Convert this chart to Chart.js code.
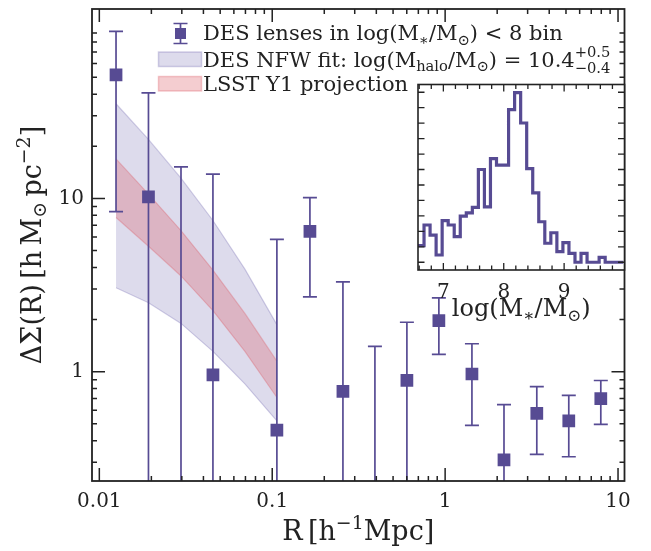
<!DOCTYPE html>
<html><head><meta charset="utf-8">
<script src="https://cdn.jsdelivr.net/npm/chart.js@4"></script>
<style>
html,body{margin:0;padding:0;background:#fff;}
#wrap{position:relative;width:651px;height:551px;overflow:hidden;}
#main{position:absolute;left:0;top:0;}
#inset{position:absolute;left:380px;top:76px;}
</style></head><body>
<div id="wrap">
<canvas id="main" width="651" height="551"></canvas>
<canvas id="inset" width="271" height="250"></canvas>
</div>
<script>
// ---------------- data ----------------
const rBins = [0.01249, 0.01924, 0.02967, 0.0454, 0.1064, 0.1652, 0.2564, 0.3926, 0.601, 0.920, 1.429, 2.19, 3.39, 5.19, 7.95];
const deltaSigma = [51.6, 10.2, null, 0.96, 0.46, 6.45, 0.77, null, 0.89, 1.97, 0.97, 0.31, 0.575, 0.52, 0.70];
const errHigh = [92, 40.7, 15.2, 13.8, 5.8, 10.1, 3.3, 1.40, 1.93, 2.67, 1.45, 0.645, 0.82, 0.73, 0.89];
// null = lower end of the error bar is below the plotted range
const errLow = [8.4, null, null, null, null, 2.7, null, null, null, 1.26, 0.49, null, 0.333, 0.323, 0.496];

const bandR = [0.01249, 0.01924, 0.02967, 0.0454, 0.0695, 0.1064];
const nfwLow = [3.05, 2.50, 1.90, 1.31, 0.85, 0.52];
const nfwHigh = [35.2, 21.9, 13.1, 7.46, 3.91, 1.87];
const lsstLow = [7.76, 5.30, 3.57, 2.25, 1.31, 0.71];
const lsstHigh = [16.9, 10.6, 6.53, 3.86, 2.17, 1.15];

const xMajor = [0.01, 0.1, 1, 10];
const xTickLabels = ['0.01', '0.1', '1', '10'];
const yMajor = [1, 10];
const yTickLabels = ['1', '10'];

// inset histogram of log(M*/Msun)
const histEdges = [6.58, 6.68, 6.78, 6.88, 6.98, 7.08, 7.18, 7.28, 7.38, 7.48, 7.58, 7.68, 7.78, 7.88, 7.98, 8.08, 8.18, 8.28, 8.38, 8.48, 8.58, 8.68, 8.78, 8.88, 8.98, 9.08, 9.18, 9.28, 9.38, 9.48, 9.58, 9.68, 9.78, 9.88, 9.98];
const histCounts = [1.08, 2.41, 1.76, 0.47, 2.69, 2.41, 1.66, 2.99, 3.20, 3.55, 6.0, 3.59, 6.71, 6.28, 6.28, 9.87, 10.97, 9.01, 6.06, 4.49, 2.62, 1.23, 1.91, 0.69, 1.27, 0.58, 0, 0.58, 0, 0, 0.32, 0, 0, 0];
const insetXMajor = [7, 8, 9];
const insetXLabels = ['7', '8', '9'];

// ---------------- style ----------------
const FAM = "'DejaVu Serif', serif";
const PURPLE = '#574b93';
const INK = '#222222';

function rich(ctx, parts, x, y, size, align) {
  const items = parts.map(p => typeof p === 'string' ? {t: p} : Object.assign({}, p));
  let w = 0;
  for (const p of items) {
    ctx.font = (size * (p.s || 1)) + 'px ' + FAM;
    p.w = p.stack ? Math.max(ctx.measureText(p.stack[0]).width, ctx.measureText(p.stack[1]).width)
                  : ctx.measureText(p.t).width;
    w += p.w;
  }
  let cx = align === 'center' ? x - w / 2 : x;
  ctx.textAlign = 'left';
  ctx.textBaseline = 'alphabetic';
  for (const p of items) {
    ctx.font = (size * (p.s || 1)) + 'px ' + FAM;
    if (p.stack) {
      ctx.fillText(p.stack[0], cx, y + p.dya * size);
      ctx.fillText(p.stack[1], cx, y + p.dyb * size);
    } else {
      ctx.fillText(p.t, cx, y + (p.dy || 0) * size);
    }
    cx += p.w;
  }
  return w;
}

function logMinors(min, max) {
  const out = [];
  for (let e = -4; e <= 3; e++) {
    for (let k = 2; k <= 9; k++) {
      const v = k * Math.pow(10, e);
      if (v > min && v < max) out.push(v);
    }
  }
  return out;
}

// ---------------- main chart ----------------
const errorBarPlugin = {
  id: 'errbars',
  beforeDatasetDraw(chart, args) {
    if (args.index !== 4) return;
    const {ctx, chartArea: a} = chart;
    const x = chart.scales.x, y = chart.scales.y;
    ctx.save();
    ctx.beginPath(); ctx.rect(a.left, a.top, a.right - a.left, a.bottom - a.top); ctx.clip();
    ctx.strokeStyle = PURPLE; ctx.lineWidth = 1.7;
    rBins.forEach((r, i) => {
      const px = x.getPixelForValue(r);
      const top = y.getPixelForValue(errHigh[i]);
      const bot = errLow[i] == null ? a.bottom + 10 : y.getPixelForValue(errLow[i]);
      ctx.beginPath(); ctx.moveTo(px, top); ctx.lineTo(px, bot); ctx.stroke();
      ctx.beginPath(); ctx.moveTo(px - 7, top); ctx.lineTo(px + 7, top); ctx.stroke();
      if (errLow[i] != null) { ctx.beginPath(); ctx.moveTo(px - 7, bot); ctx.lineTo(px + 7, bot); ctx.stroke(); }
    });
    ctx.restore();
  }
};

const mainDecor = {
  id: 'mainDecor',
  beforeDraw(chart) {
    const ctx = chart.ctx;
    ctx.save(); ctx.fillStyle = '#fff'; ctx.fillRect(0, 0, chart.width, chart.height); ctx.restore();
  },
  afterDraw(chart) {
    const {ctx, chartArea: a} = chart;
    const x = chart.scales.x, y = chart.scales.y;
    ctx.save();
    ctx.strokeStyle = INK;
    ctx.lineWidth = 1.5;
    const tick = (px, len, horiz) => {
      ctx.beginPath();
      if (horiz) {
        ctx.moveTo(px, a.bottom); ctx.lineTo(px, a.bottom - len);
        ctx.moveTo(px, a.top); ctx.lineTo(px, a.top + len);
      } else {
        ctx.moveTo(a.left, px); ctx.lineTo(a.left + len, px);
        ctx.moveTo(a.right, px); ctx.lineTo(a.right - len, px);
      }
      ctx.stroke();
    };
    xMajor.forEach(v => tick(x.getPixelForValue(v), 13, true));
    logMinors(x.min, x.max).forEach(v => tick(x.getPixelForValue(v), 5, true));
    yMajor.forEach(v => tick(y.getPixelForValue(v), 13, false));
    logMinors(y.min, y.max).filter(v => v < 100).forEach(v => tick(y.getPixelForValue(v), 5, false));
    ctx.lineWidth = 1.8;
    ctx.strokeRect(a.left, a.top, a.right - a.left, a.bottom - a.top);

    ctx.fillStyle = INK;
    rich(ctx, ['R\u2009[h', {t: '\u22121', s: 0.7, dy: -0.42}, 'Mpc]'], (a.left + a.right) / 2, 540, 27, 'center');
    ctx.save();
    ctx.translate(41, (a.top + a.bottom) / 2);
    ctx.rotate(-Math.PI / 2);
    rich(ctx, ['\u0394\u03a3(R)\u2009[h\u2009M', {t: '\u2299', s: 0.7, dy: 0.2}, '\u2009pc', {t: '\u22122', s: 0.7, dy: -0.42}, ']'], 0, 0, 27, 'center');
    ctx.restore();

    // legend
    const LX = 203, FS = 21;
    ctx.strokeStyle = PURPLE; ctx.lineWidth = 1.7;
    ctx.beginPath(); ctx.moveTo(180.5, 23.5); ctx.lineTo(180.5, 43.5);
    ctx.moveTo(173.5, 23.5); ctx.lineTo(187.5, 23.5);
    ctx.moveTo(173.5, 43.5); ctx.lineTo(187.5, 43.5); ctx.stroke();
    ctx.fillStyle = PURPLE; ctx.fillRect(175, 28, 11, 11);
    ctx.fillStyle = INK;
    rich(ctx, ['DES lenses in log(M', {t: '\u2217', s: 0.7, dy: 0.22}, '/M', {t: '\u2299', s: 0.7, dy: 0.22}, ') < 8 bin'], LX, 40, FS);
    ctx.fillStyle = 'rgba(100,90,170,0.22)'; ctx.strokeStyle = 'rgba(100,90,170,0.28)'; ctx.lineWidth = 1.5;
    ctx.fillRect(158.5, 52, 43, 14.5); ctx.strokeRect(158.5, 52, 43, 14.5);
    ctx.fillStyle = INK;
    rich(ctx, ['DES NFW fit: log(M', {t: 'halo', s: 0.7, dy: 0.22}, '/M', {t: '\u2299', s: 0.7, dy: 0.22}, ') = 10.4',
               {stack: ['+0.5', '\u22120.4'], s: 0.7, dya: -0.45, dyb: 0.3}], LX, 66.5, FS);
    ctx.fillStyle = 'rgba(220,90,100,0.3)'; ctx.strokeStyle = 'rgba(220,90,100,0.32)';
    ctx.fillRect(158.5, 76.5, 43, 14.5); ctx.strokeRect(158.5, 76.5, 43, 14.5);
    ctx.fillStyle = INK;
    rich(ctx, ['LSST Y1 projection'], LX, 91, FS);
    ctx.restore();
  }
};

const pts = (xs, ys) => xs.map((v, i) => ({x: v, y: ys[i]}));

new Chart(document.getElementById('main'), {
  type: 'line',
  data: {
    datasets: [
      {data: pts(bandR, nfwHigh), fill: '+1', backgroundColor: 'rgba(100,90,170,0.22)', borderColor: 'rgba(100,90,170,0.28)', borderWidth: 1.2, pointRadius: 0, tension: 0, order: 3},
      {data: pts(bandR, nfwLow), fill: false, borderColor: 'rgba(100,90,170,0.28)', borderWidth: 1.2, pointRadius: 0, tension: 0, order: 3},
      {data: pts(bandR, lsstHigh), fill: '+1', backgroundColor: 'rgba(220,90,100,0.3)', borderColor: 'rgba(220,90,100,0.32)', borderWidth: 1.2, pointRadius: 0, tension: 0, order: 2},
      {data: pts(bandR, lsstLow), fill: false, borderColor: 'rgba(220,90,100,0.32)', borderWidth: 1.2, pointRadius: 0, tension: 0, order: 2},
      {data: pts(rBins, deltaSigma), showLine: false, pointStyle: 'rect', pointRadius: 9, pointBackgroundColor: PURPLE, pointBorderColor: PURPLE, pointBorderWidth: 0, order: 0}
    ]
  },
  options: {
    responsive: false, animation: false, devicePixelRatio: 1,
    layout: {padding: {top: 4, right: 26.5, left: 0, bottom: 0}},
    plugins: {legend: {display: false}, tooltip: {enabled: false}},
    scales: {
      x: {
        type: 'logarithmic', min: 0.00907, max: 10.9,
        grid: {display: false, drawTicks: false}, border: {display: false},
        ticks: {font: {family: FAM, size: 20}, color: INK, padding: 9, maxRotation: 0, autoSkip: false,
                callback: v => xTickLabels[xMajor.indexOf(v)]},
        afterBuildTicks: s => { s.ticks = xMajor.map(v => ({value: v})); },
        afterFit: s => { s.height = 70; s.paddingLeft = 0; s.paddingRight = 0; }
      },
      y: {
        type: 'logarithmic', min: 0.234, max: 124,
        grid: {display: false, drawTicks: false}, border: {display: false},
        ticks: {font: {family: FAM, size: 20}, color: INK, padding: 8, autoSkip: false,
                callback: v => yTickLabels[yMajor.indexOf(v)]},
        afterBuildTicks: s => { s.ticks = yMajor.map(v => ({value: v})); },
        afterFit: s => { s.width = 92; s.paddingTop = 0; s.paddingBottom = 0; }
      }
    }
  },
  plugins: [mainDecor, errorBarPlugin]
});

// ---------------- inset chart ----------------
const insetDecor = {
  id: 'insetDecor',
  beforeDraw(chart) {
    const {ctx, chartArea: a} = chart;
    ctx.save(); ctx.fillStyle = '#fff'; ctx.fillRect(a.left, a.top, a.right - a.left, a.bottom - a.top); ctx.restore();
  },
  afterDraw(chart) {
    const {ctx, chartArea: a} = chart;
    const x = chart.scales.x, y = chart.scales.y;
    ctx.save();
    ctx.strokeStyle = INK; ctx.lineWidth = 1.3;
    const xt = (v, len) => {
      const p = x.getPixelForValue(v);
      ctx.beginPath(); ctx.moveTo(p, a.bottom); ctx.lineTo(p, a.bottom - len);
      ctx.moveTo(p, a.top); ctx.lineTo(p, a.top + len); ctx.stroke();
    };
    for (let k = 0; k <= 20; k++) {
      const v = 6.6 + 0.2 * k;
      if (v > x.min && v < x.max) xt(v, Math.abs(v - Math.round(v)) < 1e-6 ? 7 : 4.5);
    }
    for (let k = 0; k <= 11; k++) {
      const p = y.getPixelForValue(k);
      ctx.beginPath(); ctx.moveTo(a.left, p); ctx.lineTo(a.left + 6.5, p);
      ctx.moveTo(a.right, p); ctx.lineTo(a.right - 6.5, p); ctx.stroke();
    }
    ctx.lineWidth = 1.6;
    ctx.strokeRect(a.left, a.top, a.right - a.left, a.bottom - a.top);
    ctx.fillStyle = INK;
    rich(ctx, ['log(M', {t: '\u2217', s: 0.7, dy: 0.22}, '/M', {t: '\u2299', s: 0.7, dy: 0.22}, ')'], (a.left + a.right) / 2, 240, 24, 'center');
    ctx.restore();
  }
};

const histPts = histEdges.map((e, i) => ({x: e, y: i < histCounts.length ? histCounts[i] : histCounts[histCounts.length - 1]}));

new Chart(document.getElementById('inset'), {
  type: 'line',
  data: {datasets: [{data: histPts, stepped: 'before', borderColor: PURPLE, borderWidth: 3.2, pointRadius: 0, fill: false}]},
  options: {
    responsive: false, animation: false, devicePixelRatio: 1,
    layout: {padding: {top: 8.5, right: 26.5, left: 38, bottom: 0}},
    plugins: {legend: {display: false}, tooltip: {enabled: false}},
    scales: {
      x: {
        type: 'linear', min: 6.58, max: 10.0,
        grid: {display: false, drawTicks: false}, border: {display: false},
        ticks: {font: {family: FAM, size: 20}, color: INK, padding: 11, maxRotation: 0, autoSkip: false,
                callback: v => insetXLabels[insetXMajor.indexOf(v)]},
        afterBuildTicks: s => { s.ticks = insetXMajor.map(v => ({value: v})); },
        afterFit: s => { s.height = 56; s.paddingLeft = 0; s.paddingRight = 0; }
      },
      y: {type: 'linear', min: -0.5, max: 11.5, display: false}
    }
  },
  plugins: [insetDecor]
});
</script>
</body></html>
